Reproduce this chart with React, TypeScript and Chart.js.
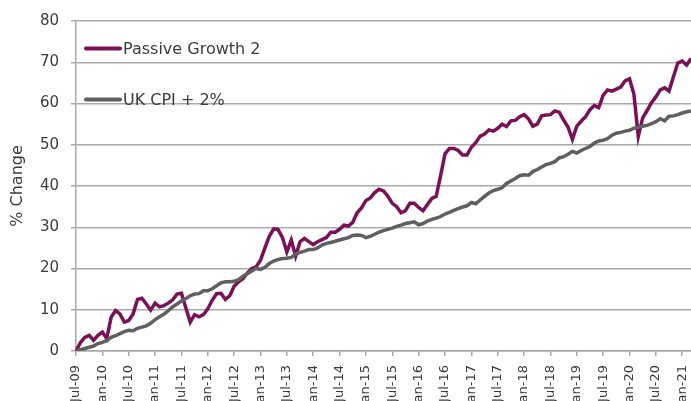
import React, { useEffect, useRef } from "react";
import { Chart, registerables } from "chart.js";

Chart.register(...registerables);

// Monthly categories Jul-09 .. Mar-21
const MONTHS = ["Jan", "Feb", "Mar", "Apr", "May", "Jun", "Jul", "Aug", "Sep", "Oct", "Nov", "Dec"];
const START_YEAR = 2009;
const START_MONTH = 6; // July
const N_POINTS = 141;
const categories: string[] = [];
for (let i = 0; i < N_POINTS; i++) {
  const m = (START_MONTH + i) % 12;
  const y = START_YEAR + Math.floor((START_MONTH + i) / 12);
  categories.push(`${MONTHS[m]}-${String(y % 100).padStart(2, "0")}`);
}

const seriesNames = ["Passive Growth 2", "UK CPI + 2%"];

const passiveGrowth2 = [
  0, 2.0, 3.3, 3.8, 2.6, 3.8, 4.6, 3.0, 8.2, 9.8,
  9.0, 7.0, 7.4, 9.0, 12.5, 12.8, 11.4, 9.9, 11.6, 10.7,
  11.0, 11.6, 12.4, 13.8, 14.0, 10.5, 7.0, 8.8, 8.3, 8.8,
  10.2, 12.3, 13.9, 14.0, 12.5, 13.4, 15.7, 16.8, 17.5, 18.9,
  20.0, 20.4, 22.0, 25.0, 27.8, 29.6, 29.5, 27.5, 24.0, 26.9,
  23.0, 26.5, 27.3, 26.5, 25.8, 26.5, 27.0, 27.5, 28.8, 28.8,
  29.5, 30.5, 30.3, 31.2, 33.5, 34.7, 36.5, 37.1, 38.4, 39.2,
  38.8, 37.5, 35.8, 35.0, 33.5, 34.0, 35.8, 35.8, 34.8, 34.0,
  35.5, 37.0, 37.5, 42.5, 47.8, 49.1, 49.1, 48.6, 47.5, 47.5,
  49.4, 50.5, 52.1, 52.6, 53.6, 53.3, 54.0, 55.0, 54.4, 55.8,
  55.9, 56.8, 57.3, 56.3, 54.5, 55.0, 57.0, 57.2, 57.3, 58.2,
  57.9, 56.0, 54.3, 51.3, 54.5, 55.7, 56.8, 58.5, 59.5, 59.0,
  62.0, 63.3, 63.0, 63.5, 64.0, 65.5, 66.0, 62.3, 52.0, 56.5,
  58.3, 60.2, 61.6, 63.3, 63.8, 63.0, 66.5, 69.8, 70.3, 69.3,
  70.9,
];

const ukCpiPlus2 = [
  0, 0.3, 0.6, 0.9, 1.2, 1.8, 2.1, 2.5, 3.3, 3.7,
  4.2, 4.7, 5.0, 4.9, 5.5, 5.8, 6.1, 6.7, 7.6, 8.3,
  8.9, 9.8, 10.7, 11.4, 12.1, 12.7, 13.4, 13.8, 13.9, 14.6,
  14.6, 15.1, 15.8, 16.5, 16.8, 16.8, 16.9, 17.3, 18.1, 18.7,
  19.4, 20.0, 19.8, 20.3, 21.2, 21.8, 22.2, 22.4, 22.5, 22.7,
  23.5, 23.9, 24.2, 24.6, 24.6, 25.0, 25.7, 26.1, 26.3, 26.6,
  26.9, 27.2, 27.5, 28.0, 28.1, 28.0, 27.5, 27.8, 28.3, 28.8,
  29.2, 29.5, 29.8, 30.2, 30.5, 30.9, 31.1, 31.3, 30.6, 30.9,
  31.5, 31.9, 32.2, 32.6, 33.2, 33.6, 34.1, 34.5, 34.9, 35.2,
  36.0, 35.7, 36.6, 37.5, 38.3, 38.9, 39.2, 39.6, 40.6, 41.2,
  41.8, 42.5, 42.7, 42.6, 43.5, 44.0, 44.6, 45.2, 45.5, 45.9,
  46.8, 47.1, 47.7, 48.4, 48.0, 48.6, 49.1, 49.6, 50.4, 50.9,
  51.1, 51.5, 52.3, 52.8, 53.0, 53.3, 53.5, 54.0, 54.2, 54.5,
  54.7, 55.1, 55.6, 56.3, 55.8, 56.9, 57.0, 57.3, 57.7, 58.0,
  58.2,
];

const yTicks = [0, 10, 20, 30, 40, 50, 60, 70, 80];
const yAxisTitle = "% Change";

const PURPLE = "#7a1157";
const GREY = "#5f5f5f";
const GRID = "#a9a9a9";
const TEXT = "#3c3c3c";
const FONT = '"DejaVu Sans", sans-serif';

const insideLegend = {
  id: "insideLegend",
  afterDatasetsDraw(chart: any) {
    const { ctx, chartArea } = chart;
    const offsets = [28, 79];
    chart.data.datasets.forEach((ds: any, i: number) => {
      const y = chartArea.top + offsets[i];
      ctx.save();
      ctx.strokeStyle = ds.borderColor;
      ctx.lineWidth = 4;
      ctx.lineCap = "round";
      ctx.beginPath();
      ctx.moveTo(chartArea.left + 10, y - 0.5);
      ctx.lineTo(chartArea.left + 44, y - 0.5);
      ctx.stroke();
      ctx.fillStyle = TEXT;
      ctx.font = `16px ${FONT}`;
      ctx.textBaseline = "middle";
      ctx.textAlign = "left";
      ctx.fillText(ds.label, chartArea.left + 47, y + 0.5);
      ctx.restore();
    });
  },
};

export default function App() {
  const ref = useRef<HTMLCanvasElement | null>(null);

  useEffect(() => {
    if (!ref.current) return;
    const chart = new Chart(ref.current, {
      type: "line",
      data: {
        labels: categories,
        datasets: [
          {
            label: seriesNames[0],
            data: passiveGrowth2,
            borderColor: PURPLE,
            backgroundColor: PURPLE,
            borderWidth: 3.5,
            pointRadius: 0,
            tension: 0,
            order: 1,
          },
          {
            label: seriesNames[1],
            data: ukCpiPlus2,
            borderColor: GREY,
            backgroundColor: GREY,
            borderWidth: 3.5,
            pointRadius: 0,
            tension: 0,
            order: 0,
          },
        ],
      },
      options: {
        responsive: false,
        animation: false,
        layout: { padding: { left: 0, right: 0, top: 16, bottom: 0 } },
        plugins: {
          legend: { display: false },
          tooltip: { enabled: false },
        },
        scales: {
          x: {
            type: "category",
            offset: false,
            afterFit: (scale: any) => {
              scale.height = 50;
              scale.paddingLeft = 0;
              scale.paddingRight = 0;
            },
            border: { display: true, color: GRID, width: 1.5 },
            grid: {
              display: true,
              drawOnChartArea: false,
              drawTicks: true,
              tickLength: 5,
              color: GRID,
              lineWidth: 1.5,
            },
            ticks: {
              autoSkip: false,
              maxRotation: 90,
              minRotation: 90,
              padding: 9,
              color: TEXT,
              font: { family: FONT, size: 13 },
              callback: (_v: any, index: number) =>
                index % 6 === 0 ? categories[index] : null,
            },
          },
          y: {
            min: 0,
            max: 80,
            afterFit: (scale: any) => {
              scale.width = 76;
            },
            afterBuildTicks: (scale: any) => {
              scale.ticks = yTicks.map((v) => ({ value: v }));
            },
            border: { display: true, color: GRID, width: 1.5 },
            grid: {
              color: GRID,
              lineWidth: 1.5,
              drawTicks: true,
              tickLength: 5,
            },
            ticks: {
              padding: 12,
              color: TEXT,
              font: { family: FONT, size: 15 },
            },
            title: {
              display: true,
              text: yAxisTitle,
              color: TEXT,
              font: { family: FONT, size: 16 },
              padding: { top: 8, bottom: 4 },
            },
          },
        },
      },
      plugins: [insideLegend],
    });
    return () => chart.destroy();
  }, []);

  return (
    <div style={{ position: "absolute", left: 0, top: 0, width: 691, height: 401 }}>
      <canvas ref={ref} width={691} height={401} />
    </div>
  );
}
